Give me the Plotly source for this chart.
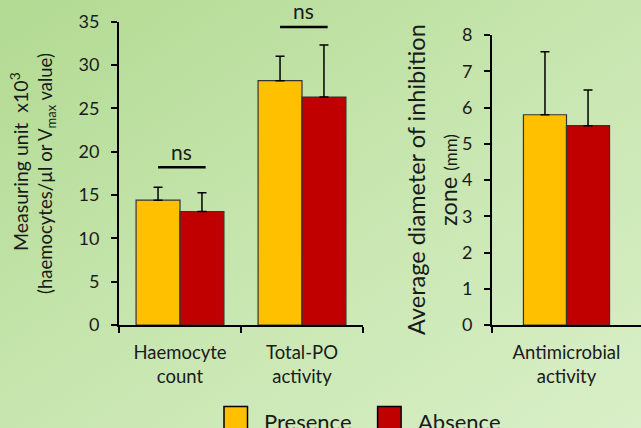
import base64
import plotly.graph_objects as go

# ---------------- data ----------------
series_names = ["Presence", "Absence"]
series_colors = ["#FFC000", "#C00000"]

left_categories = ["Haemocyte<br>count", "Total-PO<br>activity"]
left_presence = [14.4, 28.2]
left_presence_err = [1.5, 2.8]
left_absence = [13.1, 26.3]
left_absence_err = [2.15, 6.0]
left_sig_y = [18.2, 34.4]
left_sig_text = ["ns", "ns"]

right_categories = ["Antimicrobial<br>activity"]
right_presence = [5.8]
right_presence_err = [1.74]
right_absence = [5.5]
right_absence_err = [0.98]
right_sig_y = [8.06]
right_sig_text = ["ns"]

left_yticks = [0, 5, 10, 15, 20, 25, 30, 35]
right_yticks = [0, 1, 2, 3, 4, 5, 6, 7, 8]

# ---------------- layout helpers ----------------
W, H = 641, 428
FONT = "Lato"
TXT = "#1a1a1a"


def px(x):
    return x / W


def py(y):
    return (H - y) / H


svg = (
    "<svg xmlns='http://www.w3.org/2000/svg' width='641' height='428' preserveAspectRatio='none'>"
    "<defs><linearGradient id='g' x1='0' y1='0' x2='1' y2='1'>"
    "<stop offset='0' stop-color='#b2da92'/>"
    "<stop offset='0.5' stop-color='#c7e6af'/>"
    "<stop offset='1' stop-color='#d9efc7'/>"
    "</linearGradient></defs>"
    "<rect width='641' height='428' fill='url(#g)'/></svg>"
)
bg_uri = "data:image/svg+xml;base64," + base64.b64encode(svg.encode()).decode()

fig = go.Figure()

err_style = dict(type="data", symmetric=False, color="black", thickness=1.5, width=4.5)
line_style = dict(color="#333333", width=1.2)

w_left = 0.36
w_right = 0.289

fig.add_trace(go.Bar(
    x=left_categories, y=left_presence, name=series_names[0],
    marker=dict(color=series_colors[0], line=line_style),
    width=w_left, offset=-w_left, showlegend=False,
    error_y=dict(array=left_presence_err, arrayminus=[0] * len(left_presence), **err_style),
    xaxis="x", yaxis="y"))
fig.add_trace(go.Bar(
    x=left_categories, y=left_absence, name=series_names[1],
    marker=dict(color=series_colors[1], line=line_style),
    width=w_left, offset=0, showlegend=False,
    error_y=dict(array=left_absence_err, arrayminus=[0] * len(left_absence), **err_style),
    xaxis="x", yaxis="y"))
fig.add_trace(go.Bar(
    x=right_categories, y=right_presence, name=series_names[0],
    marker=dict(color=series_colors[0], line=line_style),
    width=w_right, offset=-w_right, showlegend=False,
    error_y=dict(array=right_presence_err, arrayminus=[0], **err_style),
    xaxis="x2", yaxis="y2"))
fig.add_trace(go.Bar(
    x=right_categories, y=right_absence, name=series_names[1],
    marker=dict(color=series_colors[1], line=line_style),
    width=w_right, offset=0, showlegend=False,
    error_y=dict(array=right_absence_err, arrayminus=[0], **err_style),
    xaxis="x2", yaxis="y2"))

axis_common = dict(
    showline=True, linecolor="black", linewidth=2, showgrid=False, zeroline=False,
    ticks="outside", tickcolor="black", tickwidth=1.5, ticklen=6, automargin=False,
)
xfont = dict(family=FONT, size=18.5, color=TXT)
yfont = dict(family=FONT, size=18, color=TXT)

fig.update_layout(
    width=W, height=H,
    margin=dict(l=0, r=0, t=0, b=0, pad=0),
    autosize=False,
    paper_bgcolor="#c8e7b0",
    plot_bgcolor="rgba(0,0,0,0)",
    showlegend=False,
    font=dict(family=FONT, color=TXT),
    xaxis=dict(domain=[px(119), px(363)], type="category", range=[-0.5, 1.5],
               tickson="boundaries", anchor="y", tickfont=xfont, ticklabelstandoff=10,
               **axis_common),
    yaxis=dict(domain=[py(325), py(21.7)], range=[0, 35], tickvals=left_yticks,
               anchor="x", ticklabelstandoff=8, tickfont=yfont, **axis_common),
    xaxis2=dict(domain=[px(492), 1.0], type="category", range=[-0.5, 0.5],
                tickson="boundaries", anchor="y2", tickfont=xfont, ticklabelstandoff=10,
                **axis_common),
    yaxis2=dict(domain=[py(325), py(35)], range=[0, 8], tickvals=right_yticks,
                anchor="x2", ticklabelstandoff=8, tickfont=yfont, **axis_common),
    images=[dict(source=bg_uri, xref="paper", yref="paper", x=0, y=1, sizex=1, sizey=1,
                 xanchor="left", yanchor="top", sizing="stretch", layer="below")],
)

shapes = []
annotations = []

# significance markers
for i, (yv, t) in enumerate(zip(left_sig_y, left_sig_text)):
    shapes.append(dict(type="line", xref="x", yref="y", x0=i - 0.18, x1=i + 0.21,
                       y0=yv, y1=yv, line=dict(color="black", width=2.5)))
    annotations.append(dict(text=t, xref="x", yref="y", x=i + 0.015, y=yv, yshift=16,
                            showarrow=False, yanchor="middle",
                            font=dict(family=FONT, size=21, color=TXT)))
for i, (yv, t) in enumerate(zip(right_sig_y, right_sig_text)):
    shapes.append(dict(type="line", xref="x2", yref="y2", x0=i - 0.15, x1=i + 0.17,
                       y0=yv, y1=yv, line=dict(color="black", width=2.5)))
    annotations.append(dict(text=t, xref="x2", yref="y2", x=i + 0.005, y=yv, yshift=15,
                            showarrow=False, yanchor="middle",
                            font=dict(family=FONT, size=21, color=TXT)))

# axis titles
annotations += [
    dict(text="Measuring unit  x10<sup>3</sup>", xref="paper", yref="paper",
         x=px(19), y=py(162), textangle=-90, showarrow=False,
         xanchor="center", yanchor="middle", font=dict(family=FONT, size=19.5, color=TXT)),
    dict(text="(haemocytes/µl or V<sub>max</sub> value)", xref="paper", yref="paper",
         x=px(46), y=py(174), textangle=-90, showarrow=False,
         xanchor="center", yanchor="middle", font=dict(family=FONT, size=18.5, color=TXT)),
    dict(text="Average diameter of inhibition", xref="paper", yref="paper",
         x=px(416), y=py(180), textangle=-90, showarrow=False,
         xanchor="center", yanchor="middle", font=dict(family=FONT, size=23.5, color=TXT)),
    dict(text="zone <span style='font-size:17px'>(mm)</span>", xref="paper", yref="paper",
         x=px(448), y=py(180), textangle=-90, showarrow=False,
         xanchor="center", yanchor="middle", font=dict(family=FONT, size=23.5, color=TXT)),
]

# legend (drawn manually to get large swatches)
legend_box_x = [224, 377.6]
legend_text_x = [262, 415.5]
for name, color, bx, tx in zip(series_names, series_colors, legend_box_x, legend_text_x):
    shapes.append(dict(type="rect", xref="paper", yref="paper",
                       x0=px(bx), x1=px(bx + 23.5), y0=py(430), y1=py(406.5),
                       fillcolor=color, line=dict(color="black", width=1.5)))
    annotations.append(dict(text=name, xref="paper", yref="paper", x=px(tx), y=py(421),
                            xanchor="left", yanchor="middle", showarrow=False,
                            font=dict(family=FONT, size=22, color=TXT)))

fig.update_layout(shapes=shapes, annotations=annotations)

fig.write_html(
    "out.html",
    config={"displayModeBar": False},
    post_script="document.body.style.margin='0';document.documentElement.style.overflow='hidden';",
)
